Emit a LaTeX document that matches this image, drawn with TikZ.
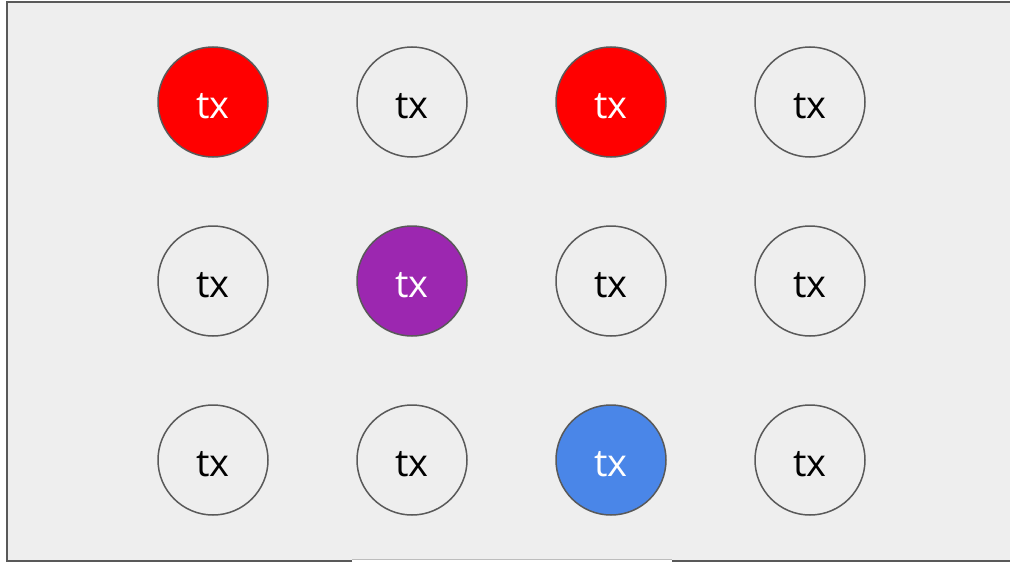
\documentclass[tikz,border=0pt]{standalone}
\usepackage{fontspec}
\setmainfont{Open Sans}
\usepackage{xcolor}
\usetikzlibrary{positioning}
\definecolor{panelgray}{HTML}{EEEEEE}
\definecolor{edgegray}{HTML}{595959}
\definecolor{gapgray}{HTML}{BDBDBD}
\definecolor{txred}{HTML}{FF0000}
\definecolor{txpurple}{HTML}{9C27B0}
\definecolor{txblue}{HTML}{4A86E8}

\begin{document}
\begin{tikzpicture}[
  x=1pt,y=-1pt,
  font=\fontsize{38}{40}\selectfont,
  node distance=69pt and 89pt,
  tx/.style={circle,draw=edgegray,line width=1.5pt,minimum size=110pt,inner sep=0pt,outer sep=0pt,
    text height=32pt,text depth=0pt,text=black},
  redtx/.style={tx,fill=txred,text=white},
  purpletx/.style={tx,fill=txpurple,text=white},
  bluetx/.style={tx,fill=txblue,text=white}
]
\useasboundingbox (0,0) rectangle (1010,562);
% panel
\fill[panelgray] (7,2) rectangle (1012,560);
\draw[edgegray,line width=2pt] (352,560.5) -- (7,560.5) -- (7,2) -- (1012,2);
\draw[edgegray,line width=2pt] (672,560.5) -- (1012,560.5);
\draw[gapgray,line width=1pt] (352,559.5) -- (672,559.5);

% first row
\node[redtx] (a1) at (213,102) {tx};
\node[tx,right=of a1] (a2) {tx};
\node[redtx,right=of a2] (a3) {tx};
\node[tx,right=of a3] (a4) {tx};
% second row
\node[tx,below=of a1] (b1) {tx};
\node[purpletx,right=of b1] (b2) {tx};
\node[tx,right=of b2] (b3) {tx};
\node[tx,right=of b3] (b4) {tx};
% third row
\node[tx,below=of b1] (c1) {tx};
\node[tx,right=of c1] (c2) {tx};
\node[bluetx,right=of c2] (c3) {tx};
\node[tx,right=of c3] (c4) {tx};
\end{tikzpicture}
\end{document}
